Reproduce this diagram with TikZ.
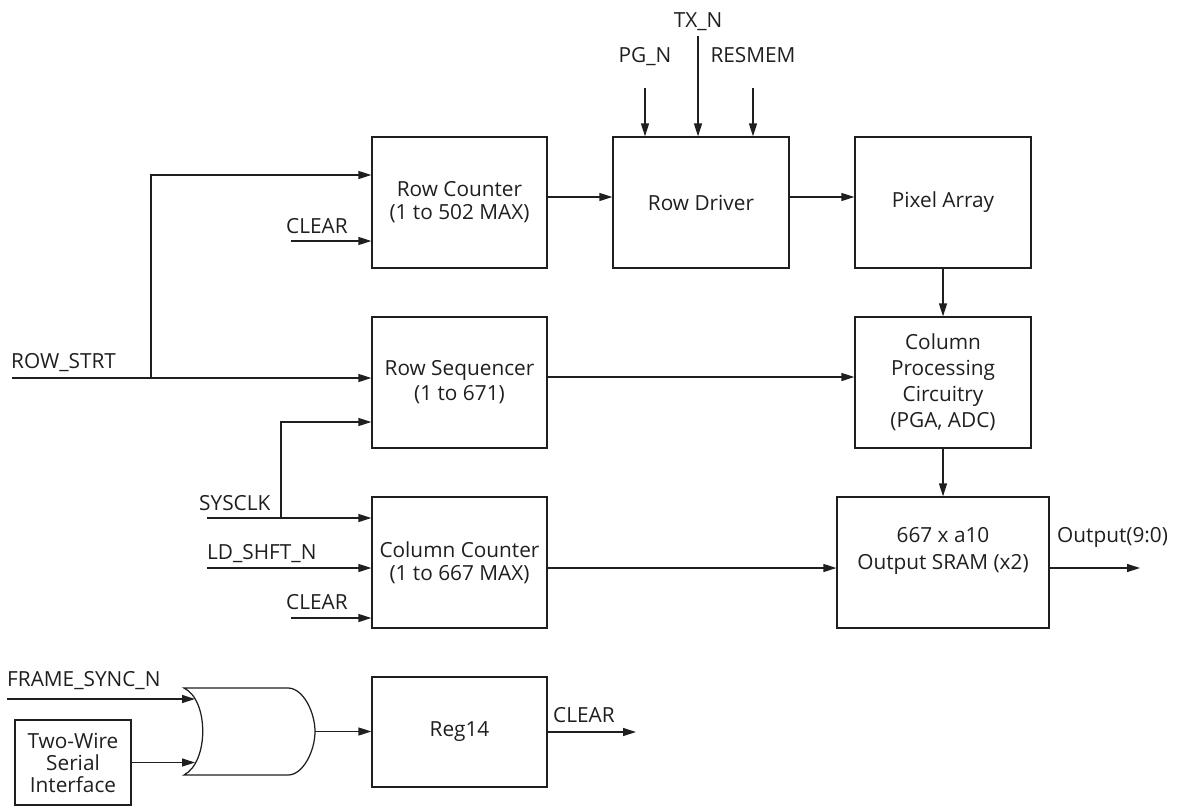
\documentclass[tikz,border=0pt]{standalone}
\usepackage{fontspec}
\setmainfont{Open Sans}
\usetikzlibrary{arrows.meta}
\newcommand{\dfont}{\fontsize{20.8}{26}\selectfont}
\begin{document}
\begin{tikzpicture}[x=1pt,y=-1pt,
  box/.style={draw=black!88, line width=1.25pt, inner sep=0pt, align=center, font=\dfont, text=black!88, minimum width=175pt, minimum height=131pt},
  lbl/.style={font=\dfont, inner sep=0pt, text=black!88},
  arr/.style={draw=black!88, line width=1.25pt, -{Triangle[length=13pt,width=8pt]}},
  wire/.style={draw=black!88, line width=1.25pt}]
\useasboundingbox (0,0) rectangle (1180,806);

% blocks
\node[box] (rc) at (459.5,202.5) {Row Counter\\[-3pt](1 to 502 MAX)};
\node[box, minimum width=176pt] (rd) at (701,202.5) {Row Driver};
\node[box, minimum width=176pt] (pa) at (943,202.5) {Pixel Array};
\node[box] (rs) at (459.5,382.5) {Row Sequencer\\[-1pt](1 to 671)};
\node[box, minimum width=176pt] (cp) at (943,382.5) {Column\\Processing\\Circuitry\\(PGA, ADC)};
\node[box] (cc) at (459.5,562.5) {Column Counter\\[-3pt](1 to 667 MAX)};
\node[box, minimum width=212pt] (sram) at (943,562.5) {};
\node[lbl, align=center] (sramtxt) at (943,551) {667 x a10\\[1pt]Output SRAM (x2)};
\node[box, minimum height=110pt] (reg) at (459.5,732) {Reg14};
\node[box, minimum width=116pt, minimum height=85pt] (tw) at (73,762.5) {Two-Wire\\[-4pt]Serial\\[-4pt]Interface};

% labels
\node[lbl, anchor=base] (ltx) at (698,27) {TX\_N};
\node[lbl, anchor=base] (lpg) at (645,62) {PG\_N};
\node[lbl, anchor=base] (lres) at (753,62) {RESMEM};
\node[lbl, anchor=base west] (lclr1) at (286,233) {CLEAR};
\node[lbl, anchor=base west] (lrow) at (11,368) {ROW\_STRT};
\node[lbl, anchor=base west] (lsys) at (199,510) {SYSCLK};
\node[lbl, anchor=base west] (lld) at (207,559) {LD\_SHFT\_N};
\node[lbl, anchor=base west] (lclr2) at (286,609) {CLEAR};
\node[lbl, anchor=base west] (lout) at (1057,542) {Output(9:0)};
\node[lbl, anchor=base west] (lfs) at (7,686) {FRAME\_SYNC\_N};
\node[lbl, anchor=base west] (lclr3) at (553,722) {CLEAR};

% free ends
\coordinate (rsin) at (12,378);
\coordinate (rsbr) at (151,378);
\coordinate (clr1) at (291,241);
\coordinate (sys) at (207,518);
\coordinate (sysbr) at (281,518);
\coordinate (ld) at (207,568);
\coordinate (clr2) at (291,618);
\coordinate (pgn) at (645,88);
\coordinate (txn) at (698,36);
\coordinate (resm) at (753,88);
\coordinate (outp) at (1140,568);
\coordinate (clrout) at (636,732);
\coordinate (fs) at (7,699);
\coordinate (org1) at (195,699);
\coordinate (org2) at (195,762.5);
\coordinate (orout) at (315,731.5);

% OR gate
\draw[wire] (184,688) -- (288,688)
  .. controls (303,688) and (315,712) .. (orout)
  .. controls (315,751) and (303,775) .. (288,775)
  -- (184,775)
  .. controls (209,762) and (209,700) .. cycle;

% connectors
\draw[arr] (rsin) -- (rsin -| rs.west);
\draw[arr] (rsbr) |- ([yshift=27.5pt]rc.west);
\draw[arr] (clr1) -- (clr1 -| rc.west);
\draw[arr] ([yshift=5.5pt]rc.east) -- ([yshift=5.5pt]rd.west);
\draw[arr] ([yshift=5.5pt]rd.east) -- ([yshift=5.5pt]pa.west);
\draw[arr] (pgn) -- (pgn |- rd.north);
\draw[arr] (txn) -- (txn |- rd.north);
\draw[arr] (resm) -- (resm |- rd.north);
\draw[arr] (pa.south) -- (cp.north);
\draw[arr] ([yshift=5.5pt]rs.east) -- ([yshift=5.5pt]cp.west);
\draw[arr] (cp.south) -- (sram.north);
\draw[arr] (sys) -- (sys -| cc.west);
\draw[arr] (sysbr) |- ([yshift=-39.5pt]rs.west);
\draw[arr] (ld) -- (ld -| cc.west);
\draw[arr] (clr2) -- (clr2 -| cc.west);
\draw[arr] ([yshift=-5.5pt]cc.east) -- ([yshift=-5.5pt]sram.west);
\draw[arr] ([yshift=-5.5pt]sram.east) -- (outp);
\draw[arr] (reg.east) -- (clrout);
\draw[arr] (orout) -- (orout -| reg.west);
\draw[arr] (fs) -- (org1);
\draw[arr] (tw.east) -- (org2);
\end{tikzpicture}
\end{document}
